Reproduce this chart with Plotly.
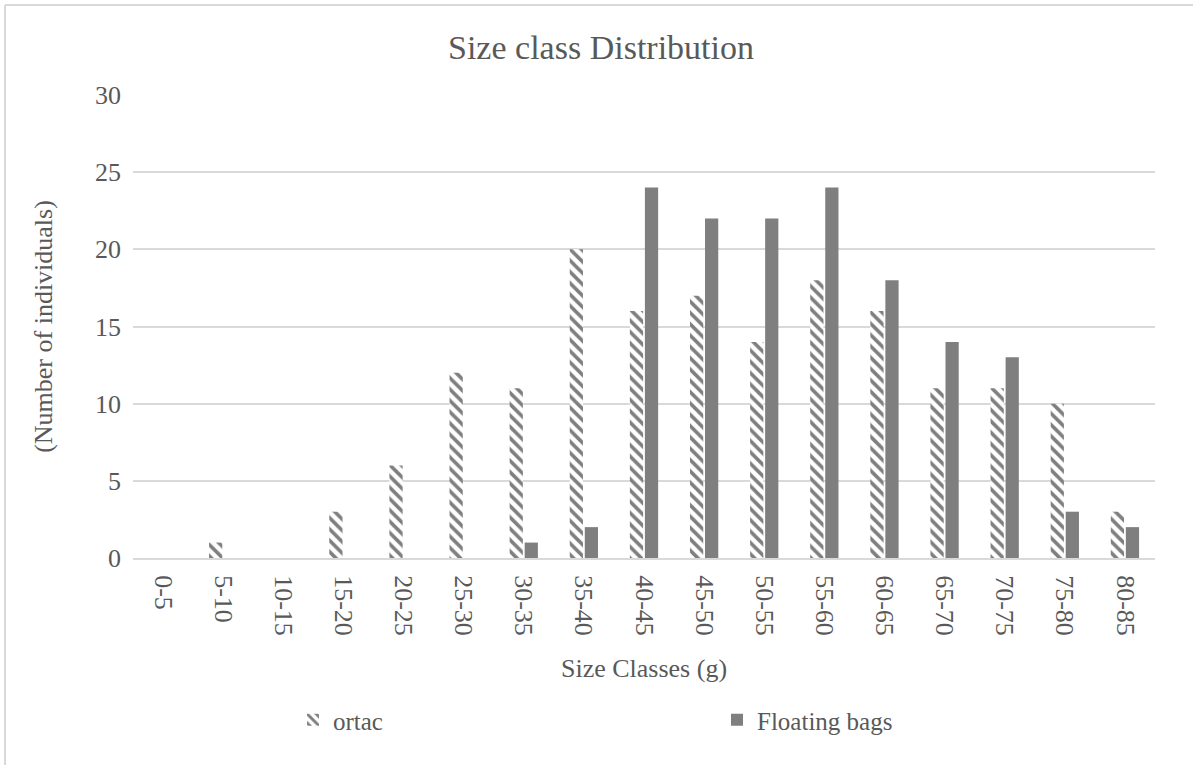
import plotly.graph_objects as go

categories = ["0-5", "5-10", "10-15", "15-20", "20-25", "25-30", "30-35", "35-40",
              "40-45", "45-50", "50-55", "55-60", "60-65", "65-70", "70-75", "75-80", "80-85"]
ortac = [0, 1, 0, 3, 6, 12, 11, 20, 16, 17, 14, 18, 16, 11, 11, 10, 3]
floating_bags = [0, 0, 0, 0, 0, 0, 1, 2, 24, 22, 22, 24, 18, 14, 13, 3, 2]
y_ticks = [0, 5, 10, 15, 20, 25, 30]

FONT = "Liberation Serif, Times New Roman, serif"
TXT = "#595959"
BAR = "#7f7f7f"

fig = go.Figure()
fig.add_trace(go.Bar(
    x=categories, y=ortac, name="ortac",
    marker=dict(color="white", line=dict(width=0),
                pattern=dict(shape="\\", fgcolor=BAR, bgcolor="white",
                             size=8, solidity=0.45, fillmode="replace")),
))
fig.add_trace(go.Bar(
    x=categories, y=floating_bags, name="Floating bags",
    marker=dict(color=BAR, line=dict(width=0)),
))

W, H = 1193, 765
L, R, T, B = 133, 38, 95, 207
pw, ph = W - L - R, H - T - B

def px_x(x):
    return (x - L) / pw

def px_y(y):
    return (H - B - y) / ph

fig.update_layout(
    width=W, height=H,
    margin=dict(l=L, r=R, t=T, b=B, autoexpand=False),
    paper_bgcolor="white", plot_bgcolor="white",
    font=dict(family=FONT, color=TXT, size=26),
    title=dict(text="Size class Distribution", x=601 / W, xref="container", xanchor="center",
               y=1 - 47 / H, yref="container", yanchor="middle",
               font=dict(size=34, color=TXT, family=FONT)),
    barmode="group", bargap=0.5, bargroupgap=0.12,
    showlegend=True,
    legend=dict(orientation="h", xref="container", yref="container",
                x=293 / W, xanchor="left", y=1 - 720 / H, yanchor="middle",
                entrywidth=379, entrywidthmode="pixels",
                font=dict(size=25, color=TXT, family=FONT), traceorder="normal"),
    xaxis=dict(tickangle=90, showgrid=False, showline=True, linecolor="#d9d9d9", linewidth=2,
               ticks="outside", ticklen=10, tickcolor="rgba(0,0,0,0)",
               tickfont=dict(size=26, color=TXT), automargin=False,
               title=dict(text="Size Classes (g)", font=dict(size=26, color=TXT), standoff=24)),
    yaxis=dict(range=[0, 30], tickvals=y_ticks, showgrid=True, gridcolor="#d9d9d9", gridwidth=1.5,
               zeroline=False, showline=False, ticks="", ticklabelstandoff=11,
               tickfont=dict(size=26, color=TXT), automargin=False,
               title=dict(text="(Number of individuals)", font=dict(size=26, color=TXT), standoff=34)),
)

# outer chart-area border (only left and top visible in the reference crop)
fig.add_shape(type="line", xref="paper", yref="paper",
              x0=px_x(5), x1=px_x(5), y0=px_y(5), y1=px_y(H + 5),
              line=dict(color="#d9d9d9", width=2))
fig.add_shape(type="line", xref="paper", yref="paper",
              x0=px_x(5), x1=px_x(W + 5), y0=px_y(5), y1=px_y(5),
              line=dict(color="#d9d9d9", width=2))

fig.write_html("out.html", config={"displayModeBar": False},
               post_script="document.body.style.margin='0';")
